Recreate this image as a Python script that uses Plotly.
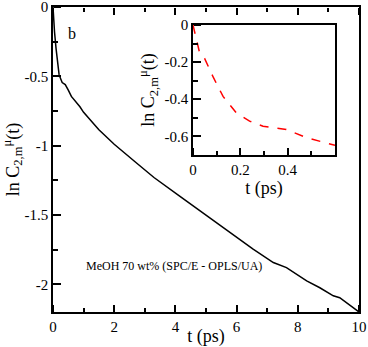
import plotly.graph_objects as go

# Main curve: ln C_2,m^mu(t) vs t (ps)
t_main = [0, 0.03, 0.05, 0.1, 0.15, 0.2, 0.3, 0.4, 0.5, 0.6, 0.88, 1.0, 1.5, 2.0, 2.7, 3.3,
          4.15, 5.0, 6.1, 6.54, 7.2, 7.63, 8.29, 8.72, 9.16, 9.37, 10.0]
y_main = [0, -0.15, -0.18, -0.30, -0.42, -0.49, -0.545, -0.56, -0.60, -0.645, -0.72, -0.76, -0.885,
          -0.99, -1.12, -1.23, -1.366, -1.50, -1.677, -1.747, -1.843, -1.88, -1.975, -2.025,
          -2.083, -2.097, -2.2]

# Inset curve (short-time detail)
t_inset = [0, 0.028, 0.049, 0.085, 0.127, 0.183, 0.239, 0.296, 0.394, 0.479, 0.6]
y_inset = [0, -0.15, -0.18, -0.28, -0.385, -0.473, -0.518, -0.545, -0.563, -0.607, -0.648]

main_xticks = [0, 2, 4, 6, 8, 10]
main_xminor = [1, 3, 5, 7, 9]
main_yticks = [0, -0.5, -1, -1.5, -2]
main_yminor = [-0.25, -0.75, -1.25, -1.75]
main_yticklabels = ["0", "-0.5", "-1", "-1.5", "-2"]
inset_xticks = [0, 0.2, 0.4]
inset_xminor = [0.1, 0.3, 0.5]
inset_yticks = [0, -0.2, -0.4, -0.6]
inset_yminor = [-0.1, -0.3, -0.5]
inset_yticklabels = ["0", "-0.2", "-0.4", "-0.6"]

FONT = "Times New Roman"
ytitle = "ln C<sub>2,m</sub><sup>μ</sup>(t)"

fig = go.Figure()
fig.add_trace(go.Scatter(x=t_main, y=y_main, mode="lines", line=dict(color="black", width=1.5),
                         xaxis="x", yaxis="y", showlegend=False))
fig.add_trace(go.Scatter(x=t_inset, y=y_inset, mode="lines",
                         line=dict(color="red", width=1.5, dash="dash"),
                         xaxis="x2", yaxis="y2", showlegend=False))

# empty traces that register the tick-only helper axes
for xa, ya in [("x", "y3"), ("x3", "y"), ("x5", "y"), ("x2", "y4"), ("x4", "y2")]:
    fig.add_trace(go.Scatter(x=[None], y=[None], mode="lines", xaxis=xa, yaxis=ya,
                             showlegend=False, hoverinfo="skip"))

fig.update_layout(
    template="none",
    width=368, height=347,
    margin=dict(l=53, r=9, t=7, b=35),
    plot_bgcolor="rgba(0,0,0,0)", paper_bgcolor="white",
    font=dict(family=FONT, size=15, color="black"),
    showlegend=False,
)

base = dict(showline=True, linecolor="black", linewidth=1.5, showgrid=False, zeroline=False,
            ticks="inside", ticklen=7, tickcolor="black", tickwidth=1.5,
            ticklabeloverflow="allow",
            tickfont=dict(family=FONT, size=15, color="black"))

# helper axes: only ticks, drawn "outside" from the opposite side so they point into the plot
ghost = dict(showline=False, showgrid=False, zeroline=False, showticklabels=False,
             ticks="outside", ticklen=7, tickcolor="black", tickwidth=1.5, anchor="free")


def minor(vals, kind="inside"):
    return dict(tickvals=vals, ticks=kind, ticklen=4, tickcolor="black", tickwidth=1.5,
                showgrid=False)


fig.update_layout(
    xaxis=dict(domain=[0, 1], range=[0, 10], mirror=True,
               tickvals=main_xticks, minor=minor(main_xminor),
               title=dict(text="t (ps)", standoff=5), **base),
    yaxis=dict(domain=[0, 1], range=[-2.2, 0], mirror=True,
               tickvals=main_yticks, ticktext=main_yticklabels, minor=minor(main_yminor),
               title=dict(text=ytitle, standoff=8), **base),
    xaxis2=dict(domain=[0.4575, 0.9216], range=[0, 0.6], anchor="y2", mirror=True,
                tickvals=inset_xticks, minor=minor(inset_xminor),
                title=dict(text="t (ps)", standoff=0), **base),
    yaxis2=dict(domain=[0.515, 0.941], range=[-0.7, 0], anchor="x2", mirror=True,
                tickvals=inset_yticks, ticktext=inset_yticklabels, minor=minor(inset_yminor),
                title=dict(text=ytitle, standoff=5), **base),
    # main: left ticks pointing right, bottom ticks pointing up, top ticks pointing down
    yaxis3=dict(overlaying="y", side="right", position=0, range=[-2.2, 0],
                tickvals=main_yticks, minor=minor(main_yminor, "outside"), **ghost),
    xaxis3=dict(overlaying="x", side="top", position=0, range=[0, 10],
                tickvals=main_xticks, minor=minor(main_xminor, "outside"), **ghost),
    xaxis5=dict(overlaying="x", side="bottom", position=1, range=[0, 10],
                tickvals=main_xticks, minor=minor(main_xminor, "outside"), **ghost),
    # inset: left ticks pointing right, bottom ticks pointing up
    yaxis4=dict(overlaying="y2", side="right", position=0.4575, range=[-0.7, 0],
                tickvals=inset_yticks, minor=minor(inset_yminor, "outside"), **ghost),
    xaxis4=dict(overlaying="x2", side="top", position=0.515, range=[0, 0.6],
                tickvals=inset_xticks, minor=minor(inset_xminor, "outside"), **ghost),
)

fig.add_annotation(text="b", x=0.62, y=-0.19, xref="x", yref="y", showarrow=False,
                   font=dict(family=FONT, size=16, color="black"))
fig.add_annotation(text="MeOH 70 wt% (SPC/E - OPLS/UA)", x=1.0, y=-1.87, xref="x", yref="y",
                   xanchor="left", showarrow=False,
                   font=dict(family=FONT, size=12, color="black"))

fig.write_html("out.html", config={"displayModeBar": False},
               post_script="document.body.style.margin='0px';")
